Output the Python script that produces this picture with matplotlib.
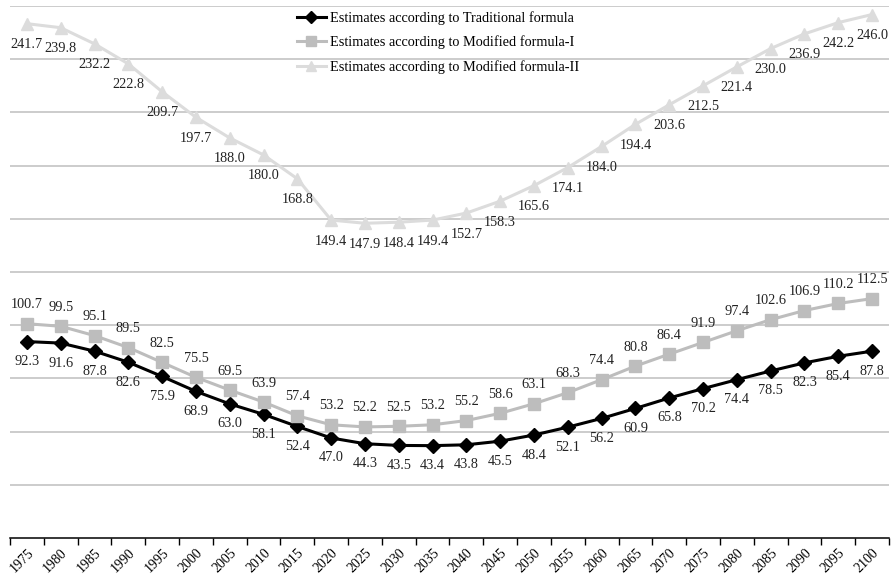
import numpy as np
import matplotlib.pyplot as plt

years = [str(y) for y in range(1975, 2101, 5)]
traditional = [92.3, 91.6, 87.8, 82.6, 75.9, 68.9, 63.0, 58.1, 52.4, 47.0, 44.3, 43.5, 43.4,
               43.8, 45.5, 48.4, 52.1, 56.2, 60.9, 65.8, 70.2, 74.4, 78.5, 82.3, 85.4, 87.8]
modified1 = [100.7, 99.5, 95.1, 89.5, 82.5, 75.5, 69.5, 63.9, 57.4, 53.2, 52.2, 52.5, 53.2,
             55.2, 58.6, 63.1, 68.3, 74.4, 80.8, 86.4, 91.9, 97.4, 102.6, 106.9, 110.2, 112.5]
modified2 = [241.7, 239.8, 232.2, 222.8, 209.7, 197.7, 188.0, 180.0, 168.8, 149.4, 147.9, 148.4, 149.4,
             152.7, 158.3, 165.6, 174.1, 184.0, 194.4, 203.6, 212.5, 221.4, 230.0, 236.9, 242.2, 246.0]

plt.rcParams['font.family'] = ['Liberation Serif', 'DejaVu Serif']

fig = plt.figure(figsize=(8.92, 5.80), dpi=100)
ax = fig.add_axes([10 / 892, 42 / 580, 879 / 892, 532 / 580])

x = np.arange(len(years))

series = [
    ("Estimates according to Traditional formula", traditional, "black", "D", 7, -20),
    ("Estimates according to Modified formula-I", modified1, "#BDBDBD", "s", 8, 19),
    ("Estimates according to Modified formula-II", modified2, "#DCDCDC", "^", 8, -21),
]

for name, vals, col, mk, ms, off in series:
    ax.plot(x, vals, color=col, marker=mk, markersize=ms, linewidth=2.2, label=name, zorder=3)
    for xi, v in zip(x, vals):
        ax.annotate(f"{v:.1f}", (xi, v), xytext=(0, off), textcoords="offset pixels",
                    ha="center", va="center", fontsize=10.3, color="#222222", zorder=4)

ax.set_ylim(0, 250)
ax.set_xlim(-0.5, len(years) - 0.5)
ax.set_yticks(np.arange(25, 251, 25))
ax.yaxis.grid(True, color="#BEBEBE", linewidth=1.1)
ax.set_axisbelow(True)
ax.tick_params(axis="y", left=False, labelleft=False)

ax.set_xticks(x)
ax.set_xticklabels(years, rotation=45, ha="right", va="top", rotation_mode="anchor", fontsize=10)
ax.tick_params(axis="x", which="major", length=0, pad=6)
ax.set_xticks(np.arange(-0.5, len(years), 1), minor=True)
ax.tick_params(axis="x", which="minor", length=5, width=1, color="black")

for s in ["top", "left", "right"]:
    ax.spines[s].set_visible(False)
ax.spines["bottom"].set_color("black")
ax.spines["bottom"].set_linewidth(1.1)

ax.legend(loc="upper left", bbox_to_anchor=((297 - 10) / 879, 0.991), frameon=False, fontsize=10.3,
          handlelength=2.0, labelspacing=0.75, handletextpad=0.3, borderpad=0, borderaxespad=0,
          markerscale=0.85)

fig.savefig("out.png", dpi=100)
